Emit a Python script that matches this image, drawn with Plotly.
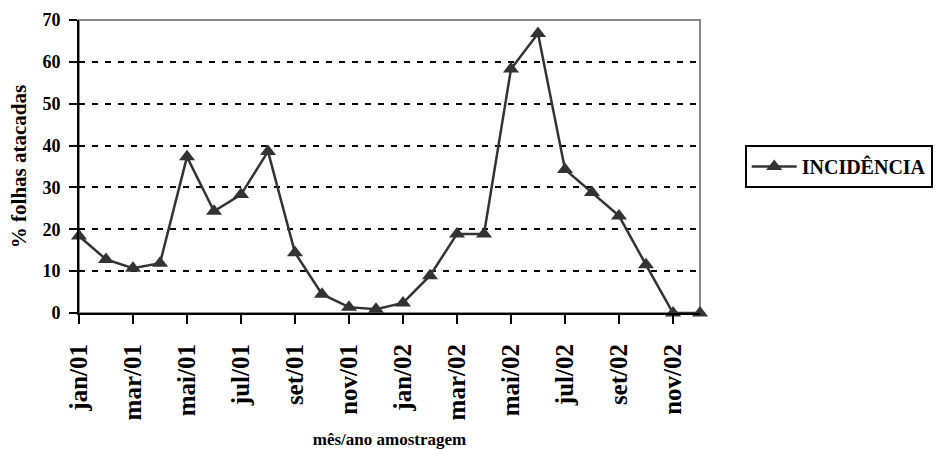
import plotly.graph_objects as go

months = ["jan/01", "fev/01", "mar/01", "abr/01", "mai/01", "jun/01",
          "jul/01", "ago/01", "set/01", "out/01", "nov/01", "dez/01",
          "jan/02", "fev/02", "mar/02", "abr/02", "mai/02", "jun/02",
          "jul/02", "ago/02", "set/02", "out/02", "nov/02", "dez/02"]
incidencia = [18.4, 12.8, 10.7, 11.9, 37.3, 24.3, 28.3, 38.6, 14.4, 4.5, 1.4, 0.9,
              2.4, 8.9, 18.9, 18.9, 58.3, 66.8, 34.3, 28.8, 23.2, 11.5, 0.0, 0.0]
tick_months = months[::2]
y_ticks = [0, 10, 20, 30, 40, 50, 60, 70]

FONT = "Liberation Serif"

fig = go.Figure()
fig.add_trace(go.Scatter(
    x=months, y=incidencia, mode="lines+markers", name="INCIDÊNCIA",
    line=dict(color="#333333", width=2.5),
    marker=dict(symbol="triangle-up", size=14, color="#333333"),
    cliponaxis=False,
))

fig.update_layout(
    width=951, height=450,
    margin=dict(l=79, r=251, t=20, b=137),
    paper_bgcolor="white", plot_bgcolor="white",
    font=dict(family=FONT, color="black"),
    showlegend=True,
    legend=dict(
        x=1.072, y=0.50, xanchor="left", yanchor="middle",
        bordercolor="black", borderwidth=2,
        font=dict(family=FONT, size=20, color="black", weight="bold"),
        itemwidth=45,
    ),
    shapes=[
        dict(type="rect", xref="paper", yref="paper", x0=0, x1=1, y0=0, y1=1,
             line=dict(color="#888888", width=2), layer="below"),
    ],
)

fig.update_xaxes(
    type="category", range=[0, 23], automargin=False,
    tickmode="array", tickvals=tick_months, ticktext=tick_months,
    tickangle=-90, ticks="outside", ticklen=9, tickwidth=2, tickcolor="black",
    ticklabelstandoff=10,
    tickfont=dict(family=FONT, size=25, color="black", weight="bold"),
    showline=True, linecolor="black", linewidth=2,
    showgrid=False, zeroline=False,
    title=dict(text="mês/ano amostragem", standoff=14,
               font=dict(family=FONT, size=17, color="black", weight="bold")),
)
fig.update_yaxes(
    range=[0, 70], automargin=False, tickmode="array", tickvals=y_ticks,
    ticks="outside", ticklen=8, tickwidth=2, tickcolor="black",
    ticklabelstandoff=5,
    tickfont=dict(family=FONT, size=18, color="black", weight="bold"),
    showline=True, linecolor="black", linewidth=2,
    showgrid=True, gridcolor="black", gridwidth=2, griddash="6px,7px",
    zeroline=False,
    title=dict(text="% folhas atacadas", standoff=10,
               font=dict(family=FONT, size=21, color="black", weight="bold")),
)

fig.write_html("out.html")
